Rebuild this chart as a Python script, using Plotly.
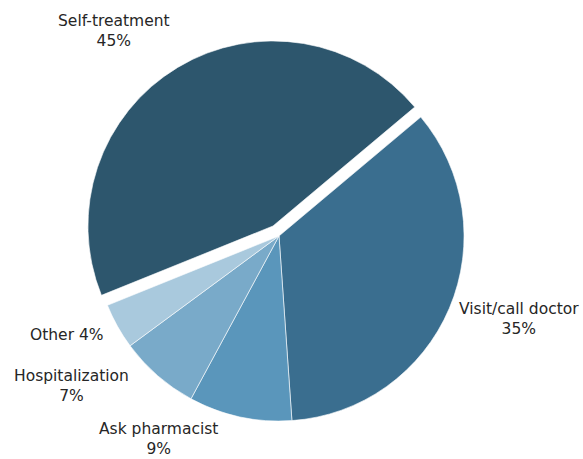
import plotly.graph_objects as go

# Ways people respond when they fall ill (share of respondents)
categories = ["Self-treatment", "Visit/call doctor", "Ask pharmacist", "Hospitalization", "Other"]
shares = [45, 35, 9, 7, 4]
label_texts = ["Self-treatment<br>45%", "Visit/call doctor<br>35%", "Ask pharmacist<br>9%",
               "Hospitalization<br>7%", "Other 4%"]

colors = ["#2d566d", "#3a6e8f", "#5a96bb", "#79aac9", "#a9c9dd"]
pulls = [0.063, 0, 0, 0, 0]

# label anchor points (pixel positions in the 583x459 canvas)
W, H = 583, 459
label_px = [(114, 31), (519, 319), (158, 439), (71, 386), (67, 335)]

# square pie domain around the centre (279, 236)
cx, cy, half = 279, 236, 196.7

fig = go.Figure(
    go.Pie(
        labels=categories,
        values=shares,
        sort=False,
        direction="clockwise",
        rotation=248,
        pull=pulls,
        marker=dict(colors=colors, line=dict(color="white", width=0.6)),
        textinfo="none",
        hoverinfo="label+percent",
        showlegend=False,
        domain=dict(x=[(cx - half) / W, (cx + half) / W],
                    y=[1 - (cy + half) / H, 1 - (cy - half) / H]),
    )
)

for txt, (px, py) in zip(label_texts, label_px):
    fig.add_annotation(
        x=px / W, y=1 - py / H, xref="paper", yref="paper",
        text=txt, showarrow=False, xanchor="center", yanchor="middle", align="center",
        font=dict(family="DejaVu Sans", size=15.5, color="#262626"),
    )

fig.update_layout(
    width=W, height=H,
    margin=dict(l=0, r=0, t=0, b=0),
    paper_bgcolor="white",
    plot_bgcolor="white",
)

fig.write_html("out.html")
